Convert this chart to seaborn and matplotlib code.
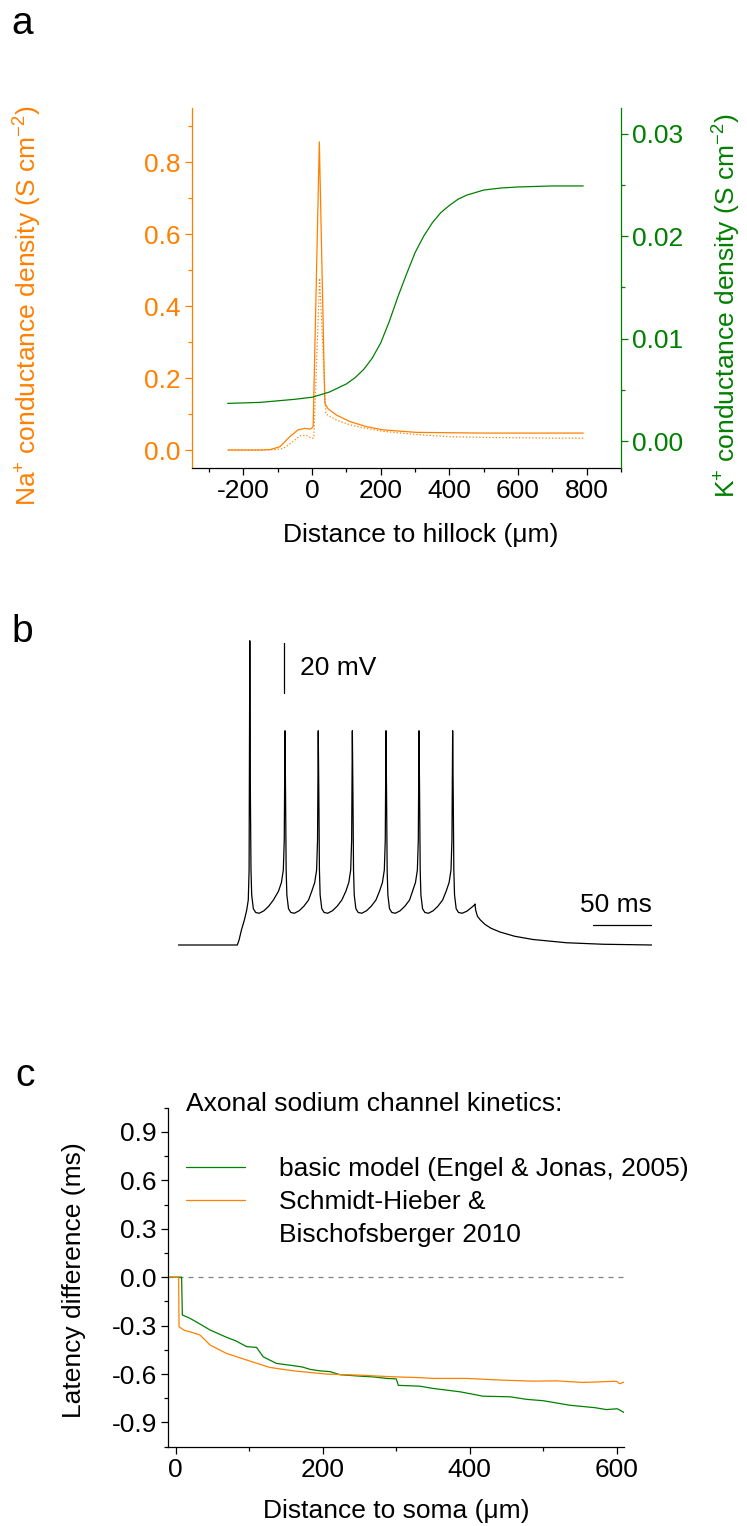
import matplotlib
matplotlib.use('Agg')
import matplotlib.pyplot as plt
import seaborn as sns
from matplotlib.lines import Line2D
from matplotlib.ticker import MultipleLocator, FormatStrFormatter

ORANGE = '#FF8000'
GREEN = '#008000'

# Panel a: conductance density along the axon
na_x = [-245, -200, -150, -123, -94, -65, -41, -21, -5, 0, 3, 21, 37, 46, 71, 110,
        158, 206, 303, 400, 500, 600, 700, 790]
na_solid = [0, 0, 0, 0.001, 0.009, 0.037, 0.056, 0.060, 0.058, 0.062, 0.065, 0.856,
            0.13, 0.115, 0.097, 0.079, 0.065, 0.056, 0.049, 0.048, 0.047, 0.047, 0.047, 0.047]
na_dot_x = [-245, -150, -110, -85, -60, -36, -17, 0, 5, 22, 40, 71, 110, 158, 206,
            303, 400, 500, 600, 700, 790]
na_dotted = [0, 0, 0.001, 0.004, 0.02, 0.039, 0.041, 0.032, 0.034, 0.477, 0.10, 0.083,
             0.070, 0.060, 0.052, 0.043, 0.037, 0.035, 0.034, 0.033, 0.033]
k_x = [-246, -150, -50, 0, 50, 100, 125, 150, 175, 200, 225, 250, 275, 300, 325, 350, 375,
       400, 425, 450, 500, 550, 600, 700, 790]
k_g = [0.0037, 0.0038, 0.0041, 0.0043, 0.0048, 0.0056, 0.0062, 0.0070, 0.0081, 0.0096,
       0.0117, 0.0141, 0.0163, 0.0184, 0.0200, 0.0213, 0.0223, 0.0230, 0.0236, 0.0240,
       0.0245, 0.0247, 0.0248, 0.0249, 0.0249]

# Panel b: membrane potential trace (ms, mV)
trace_t = [0, 50, 51.5, 53.5, 56, 58, 59.3, 60.0, 60.6, 61.1, 61.6, 62.2, 63.6, 65.6, 68.6,
           72.6, 76.6, 80.6,
           84.9, 87.4, 89.0, 89.8, 90.4, 90.9, 91.4, 92.0, 93.4, 95.4, 98.4, 102.4, 106.4, 110.4,
           113.1, 115.6, 117.2, 118.0, 118.6, 119.1, 119.6, 120.2, 121.6, 123.6, 126.6, 130.6,
           134.6, 138.6,
           142.0, 144.5, 146.1, 146.9, 147.5, 148.0, 148.5, 149.1, 150.5, 152.5, 155.5, 159.5,
           163.5, 167.5,
           170.5, 173.0, 174.6, 175.4, 176.0, 176.5, 177.0, 177.6, 179.0, 181.0, 184.0, 188.0,
           192.0, 196.0,
           198.5, 201.0, 202.6, 203.4, 204.0, 204.5, 205.0, 205.6, 207.0, 209.0, 212.0, 216.0,
           220.0, 224.0,
           227.0, 229.5, 231.1, 231.9, 232.5, 233.0, 233.5, 234.1, 235.5, 237.5, 240.5, 244.5,
           248.5, 251.0, 251.4, 252.0, 253.5, 256, 260, 265, 272.6, 285, 300.6, 329, 360, 401.7]
trace_v = [-70, -70, -68, -64, -60, -56, -52, -40, 51.7, -10, -40, -50, -55.5, -57, -57.3,
           -56.3, -54.5, -52,
           -48.5, -45, -40, -28, 15.7, -10, -40, -50, -55.5, -57, -57.3, -56.3, -54.5, -52,
           -48.5, -45, -40, -28, 15.7, -10, -40, -50, -55.5, -57, -57.3, -56.3,
           -54.5, -52,
           -48.5, -45, -40, -28, 15.7, -10, -40, -50, -55.5, -57, -57.3, -56.3,
           -54.5, -52,
           -48.5, -45, -40, -28, 15.7, -10, -40, -50, -55.5, -57, -57.3, -56.3,
           -54.5, -52,
           -48.5, -45, -40, -28, 15.7, -10, -40, -50, -55.5, -57, -57.3, -56.3,
           -54.5, -52,
           -48.5, -45, -40, -28, 15.7, -10, -40, -50, -55.5, -57, -57.3, -56.5,
           -55, -54, -53.6, -56, -58.5, -60, -61.8, -63.3, -64.8, -66.5, -67.8, -69.1, -69.7, -70]

# Panel c: latency difference vs distance
basic_x = [-8, 8, 9, 19.5, 33, 46.7, 69, 82, 96.5, 110, 119, 137, 160, 172, 183, 196, 210,
           223.5, 251, 270, 287, 300, 303, 332, 350, 387, 418, 455, 478, 500, 536, 570, 586,
           601, 610]
basic_y = [0, 0, -0.234, -0.255, -0.29, -0.327, -0.372, -0.395, -0.43, -0.435, -0.493,
           -0.534, -0.548, -0.556, -0.571, -0.58, -0.585, -0.604, -0.613, -0.618, -0.627,
           -0.63, -0.67, -0.675, -0.689, -0.71, -0.737, -0.741, -0.757, -0.765, -0.793,
           -0.808, -0.82, -0.815, -0.838]
sh_x = [-8, 4, 4.5, 12, 19.5, 33, 46.7, 69, 96.5, 128, 160, 205, 251, 296, 332, 350, 396,
        441, 486, 518, 554, 596, 600, 604, 610]
sh_y = [0, 0, -0.307, -0.33, -0.338, -0.358, -0.42, -0.472, -0.513, -0.559, -0.58, -0.6,
        -0.607, -0.617, -0.622, -0.627, -0.627, -0.637, -0.644, -0.642, -0.652, -0.645,
        -0.645, -0.66, -0.65]
legend_labels = ['basic model (Engel & Jonas, 2005)', 'Schmidt-Hieber &', 'Bischofsberger 2010']

sns.set_theme(style='ticks')
plt.rcParams['font.family'] = ['Liberation Sans', 'DejaVu Sans']
plt.rcParams['mathtext.fontset'] = 'custom'
plt.rcParams['mathtext.rm'] = 'Liberation Sans'
plt.rcParams['mathtext.it'] = 'Liberation Sans:italic'
plt.rcParams['axes.unicode_minus'] = False
for key in ['text.color', 'axes.labelcolor', 'xtick.color', 'ytick.color', 'axes.edgecolor']:
    plt.rcParams[key] = 'black'
FS = 19

fig = plt.figure(figsize=(7.47, 15.26), dpi=100)
W, H = 747, 1526


def tick_style(ax, axis='both', color='black'):
    ax.tick_params(axis=axis, which='major', direction='out', length=5, width=0.9,
                   labelsize=FS, color=color, labelcolor=color, pad=3)
    ax.tick_params(axis=axis, which='minor', direction='out', length=3, width=0.9, color=color)


# ---- panel a ----
ax_a = fig.add_axes([192 / W, 1 - 468 / H, 429 / W, 360 / H])
ax_k = ax_a.twinx()
sns.lineplot(x=na_x, y=na_solid, ax=ax_a, color=ORANGE, lw=0.9, sort=False, estimator=None)
sns.lineplot(x=na_dot_x, y=na_dotted, ax=ax_a, color=ORANGE, lw=0.9, ls=':', sort=False,
             estimator=None)
sns.lineplot(x=k_x, y=k_g, ax=ax_k, color=GREEN, lw=0.9, sort=False, estimator=None)
ax_a.set_xlim(-350, 900)
ax_a.set_ylim(-0.05, 0.95)
ax_k.set_ylim(-0.0026, 0.0325)
ax_a.xaxis.set_minor_locator(MultipleLocator(100))
ax_a.yaxis.set_major_locator(MultipleLocator(0.2))
ax_a.yaxis.set_minor_locator(MultipleLocator(0.1))
ax_a.yaxis.set_major_formatter(FormatStrFormatter('%.1f'))
ax_k.yaxis.set_major_locator(MultipleLocator(0.01))
ax_k.yaxis.set_minor_locator(MultipleLocator(0.005))
ax_k.yaxis.set_major_formatter(FormatStrFormatter('%.2f'))
ax_a.set_xticks([-200, 0, 200, 400, 600, 800])
ax_a.set_xticklabels(['-200', '0', '200', '400', '600', '800'])
for s in ['top', 'right']:
    ax_a.spines[s].set_visible(False)
for s in ['top', 'left', 'bottom']:
    ax_k.spines[s].set_visible(False)
ax_a.spines['left'].set_color(ORANGE)
ax_k.spines['right'].set_color(GREEN)
for sp in list(ax_a.spines.values()) + list(ax_k.spines.values()):
    sp.set_linewidth(0.9)
tick_style(ax_a, 'x')
tick_style(ax_a, 'y', ORANGE)
tick_style(ax_k, 'y', GREEN)
ax_a.set_xlabel('Distance to hillock (μm)', fontsize=FS)
ax_a.xaxis.set_label_coords(0.534, -0.153)
ax_a.set_ylabel(r'Na$^{+}$ conductance density (S cm$^{-2}$)', fontsize=FS, color=ORANGE)
ax_a.yaxis.set_label_coords(-0.345, 0.45)
ax_k.set_ylabel(r'K$^{+}$ conductance density (S cm$^{-2}$)', fontsize=FS, color=GREEN)
ax_k.yaxis.set_label_coords(1.21, 0.45)

# ---- panel b ----
ax_b = fig.add_axes([178.3 / W, 1 - 960 / H, 474 / W, 340 / H])
sns.lineplot(x=trace_t, y=trace_v, ax=ax_b, color='black', lw=0.9, sort=False, estimator=None)
ax_b.set_xlim(0, 401.7)
ax_b.set_ylim(-76, 60)
ax_b.axis('off')
ax_b.plot([89.8, 89.8], [30.9, 50.9], color='black', lw=0.9)
ax_b.text(103.1, 40.8, '20 mV', fontsize=FS, va='center', ha='left')
ax_b.plot([351.7, 401.7], [-62, -62], color='black', lw=0.9)
ax_b.text(401.7, -54, '50 ms', fontsize=FS, va='center', ha='right')

# ---- panel c ----
ax_c = fig.add_axes([168 / W, 1 - 1446.7 / H, 456 / W, 339 / H])
ax_c.hlines(0, -10, 609, colors='#808080', linestyles=(0, (4, 4)), lw=0.9)
sns.lineplot(x=basic_x, y=basic_y, ax=ax_c, color=GREEN, lw=0.9, sort=False, estimator=None)
sns.lineplot(x=sh_x, y=sh_y, ax=ax_c, color=ORANGE, lw=0.9, sort=False, estimator=None)
ax_c.set_xlim(-10.5, 610)
ax_c.set_ylim(-1.05, 1.05)
ax_c.xaxis.set_major_locator(MultipleLocator(200))
ax_c.xaxis.set_minor_locator(MultipleLocator(100))
ax_c.set_yticks([-0.9, -0.6, -0.3, 0.0, 0.3, 0.6, 0.9])
ax_c.yaxis.set_minor_locator(MultipleLocator(0.15))
ax_c.yaxis.set_major_formatter(FormatStrFormatter('%.1f'))
for s in ['top', 'right']:
    ax_c.spines[s].set_visible(False)
for sp in ax_c.spines.values():
    sp.set_linewidth(0.9)
tick_style(ax_c)
ax_c.set_xlabel('Distance to soma (μm)', fontsize=FS)
ax_c.xaxis.set_label_coords(0.5, -0.154)
ax_c.set_ylabel('Latency difference (ms)', fontsize=FS)
ax_c.yaxis.set_label_coords(-0.18, 0.492)
ax_c.text(18 / 456, 1.011, 'Axonal sodium channel kinetics:', transform=ax_c.transAxes,
          fontsize=FS, va='center', ha='left')
handles = [Line2D([], [], color=GREEN, lw=0.9), Line2D([], [], color=ORANGE, lw=0.9),
           Line2D([], [], color='none')]
ax_c.legend(handles, legend_labels, loc='upper left', bbox_to_anchor=(18 / 456, 0.854),
            frameon=False, fontsize=FS, handlelength=2.24, handletextpad=1.3,
            labelspacing=0.33, borderpad=0, borderaxespad=0)

# panel letters
fig.text(22 / W, 1 - 24 / H, 'a', fontsize=28, ha='center', va='center')
fig.text(22 / W, 1 - 632 / H, 'b', fontsize=28, ha='center', va='center')
fig.text(25 / W, 1 - 1076 / H, 'c', fontsize=28, ha='center', va='center')

fig.savefig('out.png', dpi=100)
